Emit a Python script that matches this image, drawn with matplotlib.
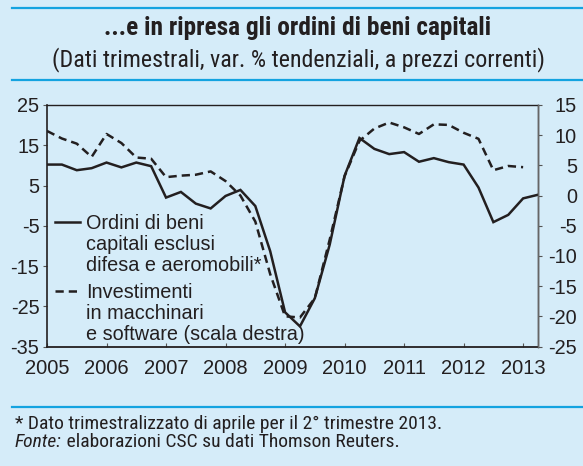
import matplotlib
matplotlib.use("Agg")
import matplotlib.pyplot as plt
from matplotlib import font_manager as fm
from matplotlib.lines import Line2D
import pandas as pd

# ---------------- data ----------------
years = [2005, 2006, 2007, 2008, 2009, 2010, 2011, 2012, 2013]
left_ticks = [-35, -25, -15, -5, 5, 15, 25]
right_ticks = [-25, -20, -15, -10, -5, 0, 5, 10, 15]

# Ordini di beni capitali esclusi difesa e aeromobili (left scale), 2005Q1-2013Q2
ordini = [10.2, 10.2, 8.8, 9.3, 10.7, 9.5, 10.7, 9.8,
          2.0, 3.4, 0.5, -0.7, 2.4, 3.9, -0.1, -11.3,
          -26.5, -30.0, -23.0, -9.7, 7.4, 16.8, 14.1, 12.8,
          13.3, 10.9, 11.8, 10.8, 10.2, 4.5, -4.1, -2.3,
          1.8, 2.7]
# Investimenti in macchinari e software (right scale), 2005Q1-2013Q1
investimenti = [10.7, 9.45, 8.6, 6.4, 10.2, 8.7, 6.3, 6.1,
                3.05, 3.3, 3.45, 4.0, 2.4, 0.0, -4.3, -13.0,
                -20.0, -20.2, -17.0, -7.3, 3.2, 9.05, 11.1, 12.1,
                11.3, 10.2, 11.8, 11.7, 10.4, 9.4, 4.2, 4.9,
                4.7]

title = "...e in ripresa gli ordini di beni capitali"
subtitle = "(Dati trimestrali, var. % tendenziali, a prezzi correnti)"
label_ordini = ["Ordini di beni", "capitali esclusi", "difesa e aeromobili*"]
label_inv = ["Investimenti", "in macchinari", "e software (scala destra)"]
note1 = "* Dato trimestralizzato di aprile per il 2° trimestre 2013."
note2a = "Fonte:"
note2b = " elaborazioni CSC su dati Thomson Reuters."

q_ord = pd.period_range("2005Q1", periods=len(ordini), freq="Q")
q_inv = pd.period_range("2005Q1", periods=len(investimenti), freq="Q")
x_ord = [p.year + (p.quarter - 1) / 4 for p in q_ord]
x_inv = [p.year + (p.quarter - 1) / 4 for p in q_inv]

# ---------------- fonts ----------------
names = {f.name for f in fm.fontManager.ttflist}
REG = "Liberation Sans" if "Liberation Sans" in names else "DejaVu Sans"
COND = REG
for cand in ["Liberation Sans Narrow", "Roboto Condensed", "Open Sans Condensed",
             "Arial Narrow", "DejaVu Sans Condensed"]:
    if cand in names:
        COND = cand
        break

BG = "#d5ecf9"
BLUE = "#14a3e0"
INK = "#231f20"
W, H = 583, 466

fig = plt.figure(figsize=(W / 100, H / 100), dpi=100, facecolor=BG)
ax = fig.add_axes([47 / W, 1 - 346.5 / H, (538 - 47) / W, (346.5 - 105) / H])
ax.set_facecolor(BG)
ax2 = ax.twinx()

lw = 1.8
ax.plot(x_ord, ordini, color=INK, lw=lw, solid_joinstyle="miter", zorder=3)
ax2.plot(x_inv, investimenti, color=INK, lw=lw, dashes=(3.3, 2.0), zorder=3)

ax.set_xlim(2005, 2013.25)
ax.set_ylim(-35, 25)
ax2.set_ylim(-25, 15)

fs = 14.3
ax.set_xticks(years, [str(y) for y in years], fontsize=14.5, color=INK, family=REG)
ax.set_yticks(left_ticks, [str(v) for v in left_ticks], fontsize=fs, color=INK, family=REG)
ax2.set_yticks(right_ticks, [str(v) for v in right_ticks], fontsize=fs, color=INK,
               family=REG, ha="right")

ax.tick_params(axis="x", direction="in", length=3, width=0.8, color="#555555", pad=8.8)
ax.tick_params(axis="y", direction="out", length=3, width=0.8, color="#555555", pad=2.5)
ax2.tick_params(axis="y", direction="out", length=3, width=0.8, color="#555555", pad=25.0)

for a in (ax, ax2):
    for s in a.spines.values():
        s.set_color(INK)
        s.set_linewidth(1.0)
ax.spines["bottom"].set_linewidth(1.3)
ax.spines["left"].set_linewidth(1.2)
ax2.spines["right"].set_color("#666666")
ax2.spines["left"].set_visible(False)
ax2.spines["bottom"].set_visible(False)
ax2.spines["top"].set_visible(False)

# ---------------- legends ----------------
blank = Line2D([], [], color="none")
h_solid = Line2D([], [], color=INK, lw=lw)
h_dash = Line2D([], [], color=INK, lw=lw, dashes=(3.3, 2.0))
common = dict(loc="upper left", frameon=False, borderpad=0, borderaxespad=0,
              handlelength=1.26, handletextpad=0.3, labelspacing=0.09,
              prop=dict(family=REG, size=fs))
leg1 = ax2.legend([h_solid, blank, blank], label_ordini,
                  bbox_to_anchor=(0.0163, 0.547), **common)
for t in leg1.get_texts():
    t.set_color(INK)
ax2.add_artist(leg1)
leg2 = ax2.legend([h_dash, blank, blank], label_inv,
                  bbox_to_anchor=(0.0163, 0.262), **common)
for t in leg2.get_texts():
    t.set_color(INK)

# ---------------- header / footer ----------------
for yy in (8.3, 80.3, 406.7):
    fig.add_artist(Line2D([12 / W, 1], [1 - yy / H, 1 - yy / H], transform=fig.transFigure,
                          color=BLUE, lw=1.6))

r = fig.canvas.get_renderer()


def fit(t, target_px):
    w = t.get_window_extent(r).width
    t.set_fontsize(t.get_fontsize() * target_px / w)


t_title = fig.text(297.5 / W, 1 - 35 / H, title, ha="center", va="baseline",
                   fontsize=16, weight="bold", family=COND, color=INK)
fit(t_title, 388)
t_sub = fig.text(299 / W, 1 - 66 / H, subtitle, ha="center", va="baseline",
                 fontsize=16, family=COND, color=INK)
fit(t_sub, 495)
t_n1 = fig.text(15 / W, 1 - 429.3 / H, note1, ha="left", va="baseline",
                fontsize=13, family=COND, color=INK)
fit(t_n1, 424)
nfs = t_n1.get_fontsize()
t_n2 = fig.text(15 / W, 1 - 446.7 / H, note2a, ha="left", va="baseline",
                fontsize=nfs, family=COND, style="italic", color=INK)
ax.annotate(note2b, xy=(1, 0), xycoords=t_n2, xytext=(0, 0), textcoords="offset points",
            ha="left", va="bottom", fontsize=nfs, family=COND, color=INK,
            annotation_clip=False)

fig.savefig("out.png", dpi=100, facecolor=BG)
